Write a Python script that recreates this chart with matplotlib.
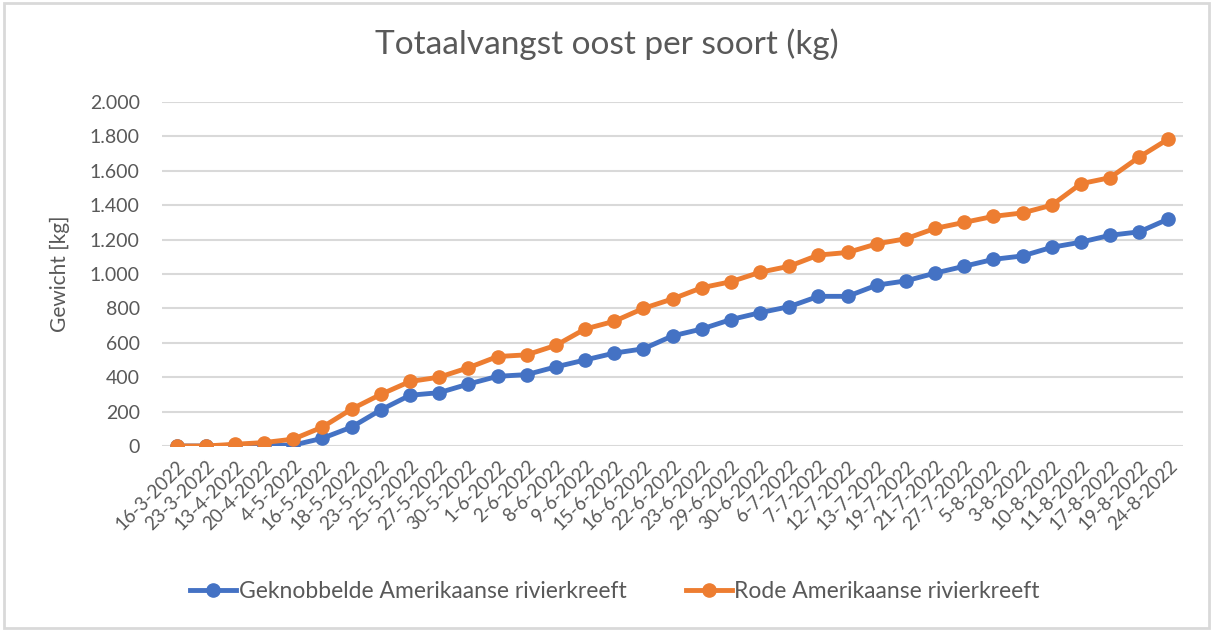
import matplotlib.pyplot as plt
from matplotlib.ticker import FuncFormatter
from matplotlib.patches import Rectangle

dates = ["16-3-2022", "23-3-2022", "13-4-2022", "20-4-2022", "4-5-2022", "16-5-2022",
         "18-5-2022", "23-5-2022", "25-5-2022", "27-5-2022", "30-5-2022", "1-6-2022",
         "2-6-2022", "8-6-2022", "9-6-2022", "15-6-2022", "16-6-2022", "22-6-2022",
         "23-6-2022", "29-6-2022", "30-6-2022", "6-7-2022", "7-7-2022", "12-7-2022",
         "13-7-2022", "19-7-2022", "21-7-2022", "27-7-2022", "5-8-2022", "3-8-2022",
         "10-8-2022", "11-8-2022", "17-8-2022", "19-8-2022", "24-8-2022"]

geknobbeld = [0, 0, 5, 5, 5, 45, 110, 210, 295, 310, 360, 405, 415, 460, 500, 540, 565,
              640, 680, 735, 775, 810, 870, 870, 935, 960, 1005, 1045, 1085, 1105, 1155,
              1185, 1225, 1245, 1320]
rode = [0, 0, 10, 20, 40, 110, 215, 300, 375, 400, 455, 520, 530, 585, 680, 725, 800,
        855, 920, 955, 1010, 1045, 1110, 1125, 1175, 1205, 1265, 1300, 1335, 1355, 1400,
        1525, 1560, 1680, 1785]

plt.rcParams['font.family'] = ['Lato', 'DejaVu Sans']
text_col = "#595959"

fig = plt.figure(figsize=(12.13, 6.31), dpi=100)
ax = fig.add_axes([0.1336, 0.2932, 0.8417, 0.5452])

x = range(len(dates))
ax.plot(x, geknobbeld, color="#4472C4", lw=3.5, marker="o", ms=9.5,
        label="Geknobbelde Amerikaanse rivierkreeft", zorder=3)
ax.plot(x, rode, color="#ED7D31", lw=3.5, marker="o", ms=9.5,
        label="Rode Amerikaanse rivierkreeft", zorder=4)

ax.set_xlim(-0.5, len(dates) - 0.5)
ax.set_ylim(0, 2000)
ax.set_yticks(range(0, 2001, 200))
ax.yaxis.set_major_formatter(FuncFormatter(lambda v, p: f"{int(v):,}".replace(",", ".")))
ax.set_xticks(list(x))
ax.set_xticklabels(dates, rotation=45, ha="right", rotation_mode="anchor")
ax.tick_params(axis="y", length=0, colors=text_col, labelsize=14, pad=16)
ax.tick_params(axis="x", length=0, colors=text_col, labelsize=13.5, pad=8)
ax.grid(axis="y", color="#D9D9D9", lw=1.5)
for s in ax.spines.values():
    s.set_visible(False)
ax.set_axisbelow(True)

ax.set_ylabel("Gewicht [kg]", fontsize=15, color=text_col, labelpad=14)
fig.suptitle("Totaalvangst oost per soort (kg)", fontsize=24, color=text_col, y=0.955)

fig.legend(loc="center", bbox_to_anchor=(0.507, 0.062), ncol=2, frameon=False,
           fontsize=16.5, labelcolor=text_col, handlelength=2.0, columnspacing=2.6,
           handletextpad=0.1)

fig.patches.append(Rectangle((0.003, 0.004), 0.994, 0.992, transform=fig.transFigure,
                             fill=False, edgecolor="#D9D9D9", lw=2))

fig.savefig("out.png", dpi=100)
